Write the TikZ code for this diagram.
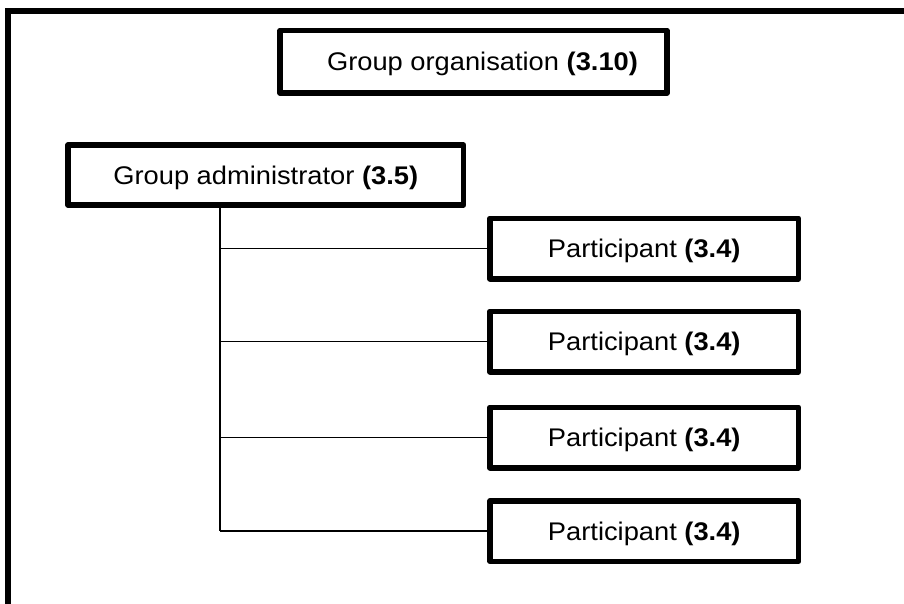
\documentclass[tikz,border=0pt]{standalone}
\usepackage{fontspec}
\setmainfont{Liberation Sans}[FakeStretch=1.07]
\begin{document}
\begin{tikzpicture}[x=1pt,y=-1pt,
  box/.style={draw=black,line width=5.5pt,line join=round,rectangle,inner sep=0pt,
    font=\fontsize{25.5}{30}\selectfont,text=black,text height=18.3pt,text depth=0pt},
  pbox/.style={box,minimum width=308.5pt,minimum height=60.5pt},
  conn/.style={draw=black,line width=1.4pt}]
\useasboundingbox (0,0) rectangle (904,604);
\fill[white] (0,0) rectangle (904,604);
% outer frame (cropped)
\draw[line width=5.5pt,line join=miter] (8,604) -- (8,10.8) -- (904,10.8);
% boxes
\node[box,minimum width=387pt,minimum height=62.5pt] (org) at (473.5,61.75) {\hspace*{18pt}Group organisation \textbf{(3.10)}};
\node[box,minimum width=395.5pt,minimum height=60pt] (adm) at (265.75,175) {Group administrator \textbf{(3.5)}};
\node[pbox] (p1) at (644.25,248.5) {Participant \textbf{(3.4)}};
\node[pbox] (p2) at (644.25,341.5) {Participant \textbf{(3.4)}};
\node[pbox] (p3) at (644.25,437.5) {Participant \textbf{(3.4)}};
\node[pbox] (p4) at (644.25,531) {Participant \textbf{(3.4)}};
% connectors
\coordinate (trunk) at (220,0);
\draw[conn] (trunk |- adm.south) -- (trunk |- p4.west);
\foreach \i in {1,...,4} \draw[conn] (trunk |- p\i.west) -- (p\i.west);
\end{tikzpicture}
\end{document}
